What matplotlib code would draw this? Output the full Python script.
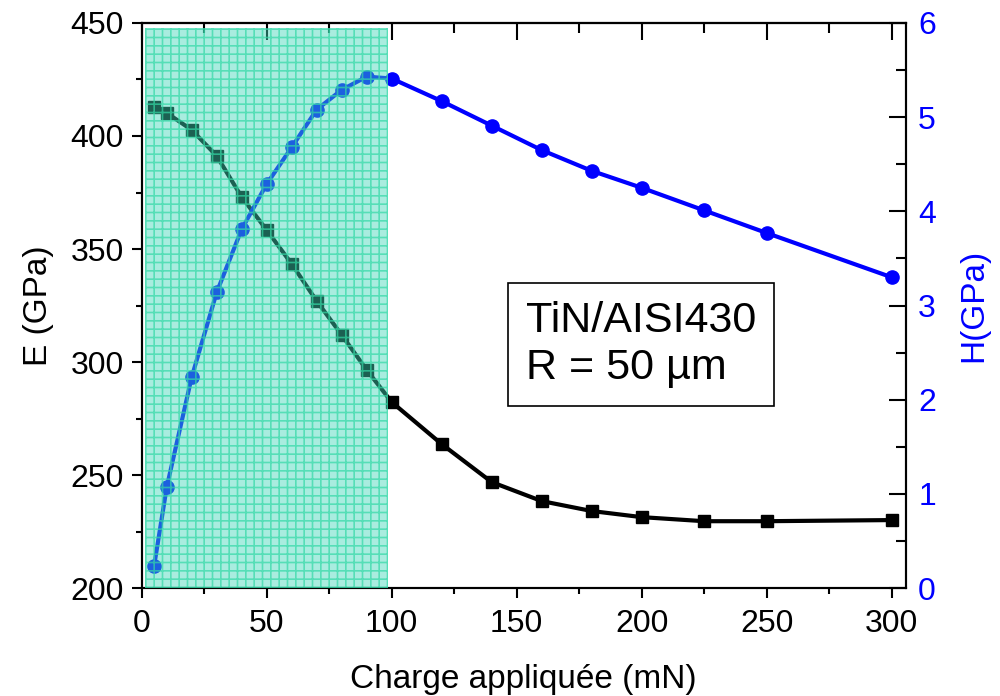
import matplotlib
matplotlib.use("Agg")
import matplotlib.pyplot as plt
from matplotlib.patches import Rectangle
from matplotlib.ticker import MultipleLocator

plt.rcParams['font.family'] = ['Liberation Sans', 'DejaVu Sans']
plt.rcParams['hatch.linewidth'] = 1.2

charge = [5, 10, 20, 30, 40, 50, 60, 70, 80, 90, 100, 120, 140, 160, 180, 200, 225, 250, 300]
E_gpa = [412.8, 410.2, 402.7, 391.2, 373.0, 358.4, 343.4, 327.0, 312.0, 296.5, 282.3,
         263.7, 246.9, 238.5, 234.1, 231.4, 229.6, 229.6, 230.1]
H_gpa = [0.24, 1.07, 2.24, 3.14, 3.81, 4.29, 4.68, 5.08, 5.29, 5.43, 5.41,
         5.17, 4.91, 4.65, 4.43, 4.25, 4.01, 3.77, 3.30]
shade_x = (1.5, 98.5)
shade_top_E = 447.8

fig = plt.figure(figsize=(10, 6.96), dpi=100)
ax = fig.add_axes([0.1417, 0.155, 0.764, 0.812])
ax2 = ax.twinx()

ax.plot(charge, E_gpa, color='black', lw=3, marker='s', ms=8, zorder=3)
ax2.plot(charge, H_gpa, color='#0000ff', lw=3, marker='o', ms=9.5, zorder=3)

ax.set_xlim(0, 305.6)
ax.set_ylim(200, 450)
ax2.set_ylim(0, 6)

# shaded overlay drawn on twin axis so it covers both series
top_h = (shade_top_E - 200) / 250 * 6
rect = Rectangle((shade_x[0], 0), shade_x[1] - shade_x[0], top_h,
                 facecolor=(0.25, 0.84, 0.72, 0.45), edgecolor=(0.2, 0.85, 0.65, 0.7),
                 hatch='++', linewidth=0, zorder=5)
ax2.add_patch(rect)

ax.xaxis.set_major_locator(MultipleLocator(50))
ax.xaxis.set_minor_locator(MultipleLocator(25))
ax.yaxis.set_major_locator(MultipleLocator(50))
ax.yaxis.set_minor_locator(MultipleLocator(25))
ax2.yaxis.set_major_locator(MultipleLocator(1))
ax2.yaxis.set_minor_locator(MultipleLocator(0.5))

ax.tick_params(axis='x', which='both', direction='out', bottom=True, top=False,
               labelsize=23, width=1.5, pad=8)
ax.tick_params(axis='x', which='major', length=7)
ax.tick_params(axis='x', which='minor', length=4)
ax.tick_params(axis='y', which='both', direction='out', left=True, right=False,
               labelsize=23, width=1.5, pad=6)
ax.tick_params(axis='y', which='major', length=7)
ax.tick_params(axis='y', which='minor', length=4)

ax2.tick_params(axis='y', which='both', direction='in', right=True,
                labelsize=23, labelcolor='#0000ff', width=1.5, pad=9)
ax2.tick_params(axis='y', which='major', length=12)
ax2.tick_params(axis='y', which='minor', length=7)

# top ticks inward
secx = ax.secondary_xaxis('top')
secx.xaxis.set_major_locator(MultipleLocator(50))
secx.xaxis.set_minor_locator(MultipleLocator(25))
secx.tick_params(axis='x', which='both', direction='in', labeltop=False, width=1.5)
secx.tick_params(axis='x', which='major', length=12)
secx.tick_params(axis='x', which='minor', length=7)
secx.spines['top'].set_linewidth(1.5)

for a in (ax, ax2):
    for s in a.spines.values():
        s.set_linewidth(1.5)

ax.set_xlabel('Charge appliquée (mN)', fontsize=24, labelpad=18)
ax.set_ylabel('E (GPa)', fontsize=24, labelpad=12)
ax2.set_ylabel('H(GPa)', fontsize=24, color='#0000ff', labelpad=16)

ax2.text(0.503, 0.431, 'TiN/AISI430\nR = 50 µm', transform=ax2.transAxes,
         fontsize=31, ha='left', va='center', linespacing=1.2, zorder=6,
         bbox=dict(boxstyle='square,pad=0.42', facecolor='white', edgecolor='black', lw=1.2))

fig.savefig('out.png', dpi=100)
